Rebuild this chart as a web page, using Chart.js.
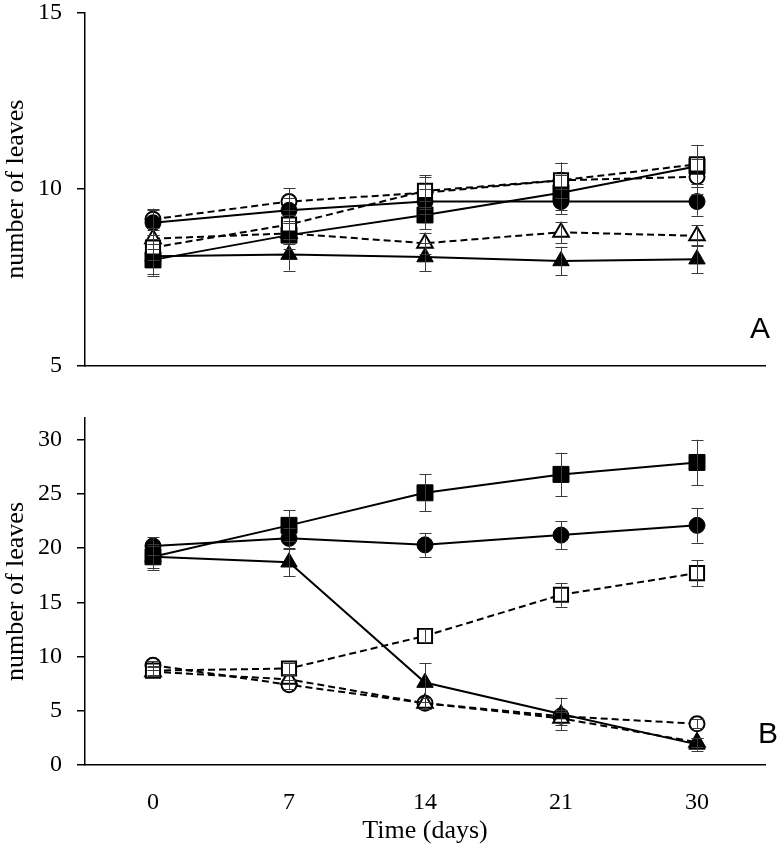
<!DOCTYPE html>
<html>
<head>
<meta charset="utf-8">
<title>number of leaves</title>
<script src="https://cdn.jsdelivr.net/npm/chart.js@4/dist/chart.umd.min.js"></script>
<style>
  body{margin:0;background:#fff}
  .panel{width:780px;position:relative}
</style>
</head>
<body>
<div class="panel" style="height:400px"><canvas id="chartA"></canvas></div>
<div class="panel" style="height:450px"><canvas id="chartB"></canvas></div>
<script>
// eje x (días) y marcas del eje y
const DAYS = ['0','7','14','21','30'];
const TICKS_A = [5,10,15];
const TICKS_B = [0,5,10,15,20,25,30];

// panel A: medias y error
const A_CIRCLE_FILLED   = [9.05, 9.40, 9.65, 9.65, 9.65];
const A_CIRCLE_FILLED_E = [0.35, 0.35, 0.35, 0.35, 0.40];
const A_SQUARE_FILLED   = [8.00, 8.70, 9.27, 9.90, 10.65];
const A_SQUARE_FILLED_E = [0.45, 0.40, 0.40, 0.50, 0.60];
const A_TRI_FILLED      = [8.10, 8.15, 8.08, 7.97, 8.02];
const A_TRI_FILLED_E    = [0.50, 0.45, 0.40, 0.40, 0.40];
const A_CIRCLE_OPEN     = [9.15, 9.65, 9.90, 10.25, 10.35];
const A_CIRCLE_OPEN_E   = [0.30, 0.37, 0.45, 0.50, 0.50];
const A_SQUARE_OPEN     = [8.35, 9.00, 9.95, 10.25, 10.70];
const A_SQUARE_OPEN_E   = [0.35, 0.40, 0.45, 0.50, 0.55];
const A_TRI_OPEN        = [8.60, 8.75, 8.47, 8.78, 8.68];
const A_TRI_OPEN_E      = [0.30, 0.30, 0.30, 0.30, 0.30];

// panel B: medias y error
const B_CIRCLE_FILLED   = [20.2, 20.9, 20.3, 21.2, 22.1];
const B_CIRCLE_FILLED_E = [0.8, 1.0, 1.1, 1.3, 1.6];
const B_SQUARE_FILLED   = [19.2, 22.1, 25.1, 26.8, 27.9];
const B_SQUARE_FILLED_E = [1.2, 1.4, 1.7, 2.0, 2.1];
const B_TRI_FILLED      = [19.2, 18.7, 7.6, 4.7, 1.9];
const B_TRI_FILLED_E    = [1.0, 1.3, 1.8, 1.5, 0.6];
const B_CIRCLE_OPEN     = [9.2, 7.4, 5.7, 4.5, 3.8];
const B_CIRCLE_OPEN_E   = [0.4, 0.4, 0.5, 0.6, 0.4];
const B_SQUARE_OPEN     = [8.7, 8.9, 11.9, 15.7, 17.7];
const B_SQUARE_OPEN_E   = [0.4, 0.5, 0.6, 1.1, 1.2];
const B_TRI_OPEN        = [8.6, 7.9, 5.7, 4.3, 2.1];
const B_TRI_OPEN_E      = [0.4, 0.4, 0.5, 0.6, 0.4];

// estilos de marcador
const STYLE = {
  circleFilled: {pointStyle:'circle',   radius:8,    filled:true,  dashed:false},
  squareFilled: {pointStyle:'rect',     radius:11.3, filled:true,  dashed:false},
  triFilled:    {pointStyle:'triangle', radius:9.5,  filled:true,  dashed:false},
  circleOpen:   {pointStyle:'circle',   radius:7.5,  filled:false, dashed:true},
  squareOpen:   {pointStyle:'rect',     radius:10,   filled:false, dashed:true},
  triOpen:      {pointStyle:'triangle', radius:9,    filled:false, dashed:true}
};

function ds(data, errors, st){
  return {
    data, errors,
    borderColor:'#000', borderWidth:2, borderDash: st.dashed ? [7,4] : [],
    tension:0, fill:false,
    pointStyle: st.pointStyle, pointRadius: st.radius,
    pointBackgroundColor: st.filled ? '#000' : '#fff',
    pointBorderColor:'#000', pointBorderWidth: st.filled ? 1 : 2
  };
}

// barras de error
const errorBars = {
  id:'errorBars',
  afterDatasetsDraw(chart){
    const ctx = chart.ctx, y = chart.scales.y;
    ctx.save();
    ctx.strokeStyle = '#3a3a3a'; ctx.lineWidth = 1;
    chart.data.datasets.forEach((d,i)=>{
      chart.getDatasetMeta(i).data.forEach((pt,j)=>{
        const t = y.getPixelForValue(d.data[j] + d.errors[j]);
        const b = y.getPixelForValue(d.data[j] - d.errors[j]);
        const x = Math.round(pt.x) + 0.5;
        ctx.beginPath();
        ctx.moveTo(x,t); ctx.lineTo(x,b);
        ctx.moveTo(x-6,Math.round(t)+0.5); ctx.lineTo(x+6,Math.round(t)+0.5);
        ctx.moveTo(x-6,Math.round(b)+0.5); ctx.lineTo(x+6,Math.round(b)+0.5);
        ctx.stroke();
      });
    });
    ctx.restore();
  }
};

// letra del panel
const panelLetter = {
  id:'panelLetter',
  afterDraw(chart, args, opts){
    const {ctx, chartArea} = chart;
    ctx.save();
    ctx.fillStyle = '#000';
    ctx.font = '30px "Liberation Sans", Arial, sans-serif';
    ctx.textAlign = 'center'; ctx.textBaseline = 'middle';
    ctx.fillText(opts.text, chartArea.right + opts.dx, chartArea.bottom + opts.dy);
    ctx.restore();
  }
};

const SERIF = '"Liberation Serif", "Times New Roman", serif';

function makeOptions(min, max, ticks, showX, letter, padTop){
  return {
    responsive:true, maintainAspectRatio:false, animation:false, events:[],
    layout:{padding:{top:padTop, right:15, left:0, bottom:0}},
    plugins:{legend:{display:false}, tooltip:{enabled:false}, panelLetter:letter},
    scales:{
      x:{
        type:'category', offset:true,
        grid:{display:false},
        border:{display:true, color:'#000', width:1.5},
        ticks:{display:showX, color:'#000', font:{family:SERIF, size:24}, padding:15},
        title:{display:showX, text:'Time (days)', color:'#000', font:{family:SERIF, size:26}, padding:{top:2, bottom:3}},
        afterFit(s){ s.height = showX ? 85 : 34; s.paddingLeft = 0; s.paddingRight = 0; }
      },
      y:{
        min, max,
        afterBuildTicks(s){ s.ticks = ticks.map(v=>({value:v})); },
        grid:{drawOnChartArea:false, drawTicks:true, tickLength:8, color:'#000', lineWidth:1.5},
        border:{display:true, color:'#000', width:1.5},
        ticks:{color:'#000', font:{family:SERIF, size:24}, padding:15},
        title:{display:true, text:'number of leaves', color:'#000', font:{family:SERIF, size:26}, padding:{top:1, bottom:0}},
        afterFit(s){ s.width = 85; s.paddingTop = 0; s.paddingBottom = 0; }
      }
    }
  };
}

window.addEventListener('DOMContentLoaded', ()=>{
  new Chart(document.getElementById('chartA'), {
    type:'line',
    data:{labels:DAYS, datasets:[
      ds(A_SQUARE_OPEN,   A_SQUARE_OPEN_E,   STYLE.squareOpen),
      ds(A_SQUARE_FILLED, A_SQUARE_FILLED_E, STYLE.squareFilled),
      ds(A_CIRCLE_FILLED, A_CIRCLE_FILLED_E, STYLE.circleFilled),
      ds(A_CIRCLE_OPEN,   A_CIRCLE_OPEN_E,   STYLE.circleOpen),
      ds(A_TRI_OPEN,      A_TRI_OPEN_E,      STYLE.triOpen),
      ds(A_TRI_FILLED,    A_TRI_FILLED_E,    STYLE.triFilled)
    ]},
    options: makeOptions(5, 15, TICKS_A, false, {text:'A', dx:-5, dy:-36}, 12),
    plugins:[errorBars, panelLetter]
  });

  new Chart(document.getElementById('chartB'), {
    type:'line',
    data:{labels:DAYS, datasets:[
      ds(B_TRI_FILLED,    B_TRI_FILLED_E,    STYLE.triFilled),
      ds(B_SQUARE_FILLED, B_SQUARE_FILLED_E, STYLE.squareFilled),
      ds(B_CIRCLE_FILLED, B_CIRCLE_FILLED_E, STYLE.circleFilled),
      ds(B_SQUARE_OPEN,   B_SQUARE_OPEN_E,   STYLE.squareOpen),
      ds(B_TRI_OPEN,      B_TRI_OPEN_E,      STYLE.triOpen),
      ds(B_CIRCLE_OPEN,   B_CIRCLE_OPEN_E,   STYLE.circleOpen)
    ]},
    options: makeOptions(0, 32, TICKS_B, true, {text:'B', dx:3, dy:-30}, 18),
    plugins:[errorBars, panelLetter]
  });
});
</script>
</body>
</html>
